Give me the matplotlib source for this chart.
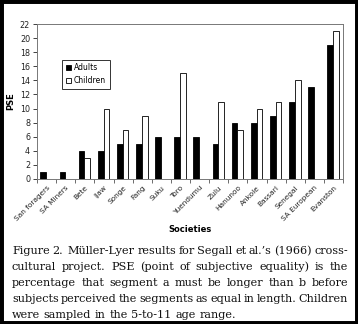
import numpy as np
import matplotlib
matplotlib.use("Agg")
import matplotlib.pyplot as plt
from matplotlib.patches import Rectangle

# Data
societies = ["San foragers", "SA Miners", "Bete", "Ijaw", "Songe", "Fang", "Suku",
             "Toro", "Yuendumu", "Zulu", "Hanunoo", "Ankole", "Bassari", "Senegal",
             "SA European", "Evanston"]
adults = [1, 1, 4, 4, 5, 5, 6, 6, 6, 5, 8, 8, 9, 11, 13, 19]
children = [np.nan, np.nan, 3, 10, 7, 9, np.nan, 15, np.nan, 11, 7, 10, 11, 14, np.nan, 21]

caption_lines = [
    "Figure 2.  Müller-Lyer results for Segall et al.’s (1966) cross-",
    "cultural project. PSE (point of subjective equality) is the",
    "percentage that segment a must be longer than b before",
    "subjects perceived the segments as equal in length. Children",
    "were sampled in the 5-to-11 age range.",
]

W, H = 358, 324
fig = plt.figure(figsize=(W / 100, H / 100), dpi=100)
fig.patch.set_facecolor("white")

ax = fig.add_axes([37 / W, 1 - 179 / H, 306 / W, 155 / H])
x = np.arange(len(societies))
bw = 0.3
ax.bar(x - bw / 2 - 0.02, adults, bw, color="black", edgecolor="black", lw=0.6, label="Adults")
ax.bar(x + bw / 2 - 0.02, children, bw, color="white", edgecolor="black", lw=0.6, label="Children")

ax.set_xlim(-0.5, len(societies) - 0.5)
ax.set_ylim(0, 22)
ax.set_yticks(range(0, 23, 2))
ax.set_xticks(x)
ax.set_xticklabels(societies, rotation=45, ha="right", rotation_mode="anchor")
ax.set_xticks(np.arange(-0.5, len(societies), 1), minor=True)
ax.tick_params(axis="x", which="major", length=0, pad=4, labelsize=5.3, colors="#222222")
ax.tick_params(axis="x", which="minor", length=3, width=0.6, color="#555555")
ax.tick_params(axis="y", length=3, width=0.6, labelsize=5.8, colors="#222222", pad=2)
for s in ax.spines.values():
    s.set_color("#777777")
    s.set_linewidth(0.7)

ax.set_xlabel("Societies", fontsize=6, fontweight="bold", labelpad=2)
ax.set_ylabel("PSE", fontsize=6, fontweight="bold", labelpad=3)

leg = ax.legend(loc="upper left", bbox_to_anchor=(0.07, 0.795), fontsize=5.5,
                fancybox=False, edgecolor="black", handlelength=0.7, handleheight=0.7,
                handletextpad=0.3, borderpad=0.5, labelspacing=0.5)
leg.get_frame().set_linewidth(0.7)

# Justified caption
fig.canvas.draw()
renderer = fig.canvas.get_renderer()
left, right = 12, 348
baselines = [254, 270.5, 286.5, 302.5, 317.5]
cap_font = dict(family="DejaVu Serif", fontsize=8.1, color="#111111")
space_w = None
for i, line in enumerate(caption_lines):
    words = line.split(" ")
    texts = []
    widths = []
    for w in words:
        t = fig.text(0, 0, w, va="baseline", ha="left", **cap_font)
        widths.append(t.get_window_extent(renderer).width if w else 0)
        texts.append(t)
    if space_w is None:
        t = fig.text(0, 0, "a a", **cap_font)
        t2 = fig.text(0, 0, "aa", **cap_font)
        space_w = t.get_window_extent(renderer).width - t2.get_window_extent(renderer).width
        t.remove()
        t2.remove()
    ngaps = len(words) - 1
    if i < len(caption_lines) - 1:
        gap = (right - left - sum(widths)) / ngaps
    else:
        gap = space_w
    xpos = left
    for t, wd in zip(texts, widths):
        t.set_position((xpos / W, 1 - baselines[i] / H))
        xpos += wd + gap

# Black frame around the figure
fig.patches.append(Rectangle((0, 0), 1, 1, transform=fig.transFigure, fill=False,
                             edgecolor="black", lw=5, zorder=10))

fig.savefig("out.png", dpi=100)
